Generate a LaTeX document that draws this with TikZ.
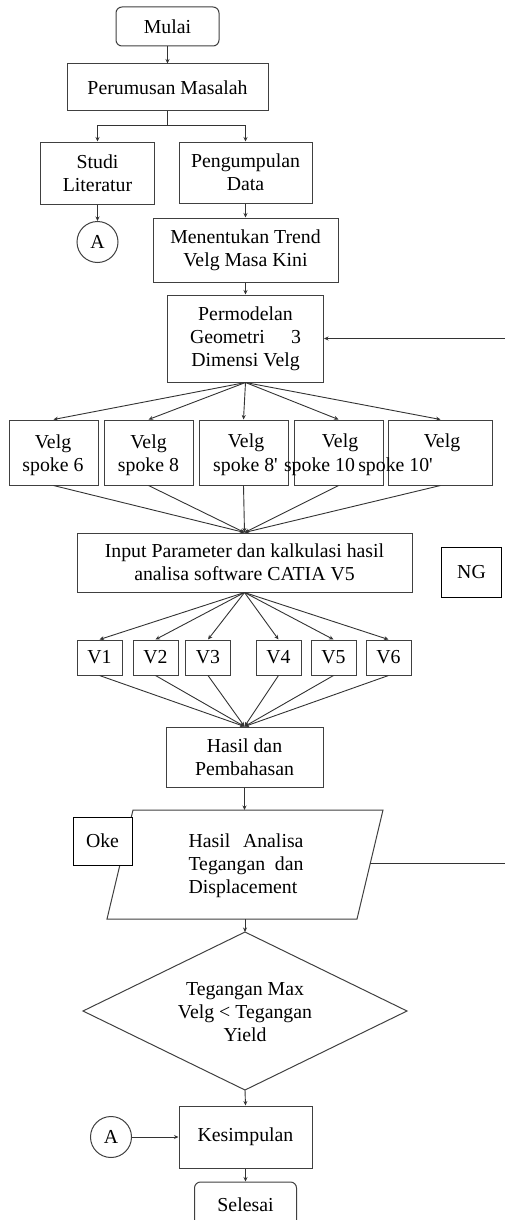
\documentclass[tikz,border=0pt]{standalone}
\usepackage{fontspec}
\setmainfont{Liberation Serif}[Ligatures=TeXOff]
\usetikzlibrary{arrows.meta,shapes.geometric}
\newcommand{\fsz}{\fontsize{19.8}{23}\selectfont}
\begin{document}
\begin{tikzpicture}[x=1pt,y=-1pt,
  box/.style={draw=black!75, line width=1pt, fill=white, inner sep=0pt, align=center, font=\fsz},
  rbox/.style={box, rounded corners=6pt},
  conn/.style={draw=black!75, line width=1pt, fill=white, circle, inner sep=0pt, minimum size=41pt, font=\fsz},
  txt/.style={inner sep=0pt, align=center, font=\fsz},
  arr/.style={draw=black!80, line width=0.9pt, -{Stealth[length=4.5pt,width=4pt]}},
  ln/.style={draw=black!80, line width=0.9pt}]
\useasboundingbox (0,0) rectangle (505,1220);
% nodes
\node[rbox, minimum width=103pt, minimum height=39pt] (mulai) at (167.5,26.5) {Mulai};
\node[box, minimum width=201pt, minimum height=47pt] (pm) at (167.5,87.5) {Perumusan Masalah};
\node[box, minimum width=114pt, minimum height=62pt] (studi) at (97.5,173) {Studi\\Literatur};
\node[box, minimum width=133pt, minimum height=61pt] (peng) at (245.5,172.5) {Pengumpulan\\Data};
\node[conn] (a1) at (97.5,242) {A};
\node[box, minimum width=185pt, minimum height=64pt] (trend) at (245.5,250) {Menentukan Trend\\Velg Masa Kini};
\node[box, minimum width=156pt, minimum height=87pt] (perm) at (245.5,338.5) {Permodelan\\\makebox[111pt]{Geometri\hfill 3}\\Dimensi Velg};
% velg row
\node[box, minimum width=89pt, minimum height=65pt] (v1) at (53.5,452.5) {};
\node[box, minimum width=89pt, minimum height=65pt] (v2) at (148.5,452.5) {};
\node[box, minimum width=89pt, minimum height=65pt] (v3) at (243.5,452.5) {};
\node[box, minimum width=89pt, minimum height=65pt] (v4) at (338.5,452.5) {};
\node[box, minimum width=104pt, minimum height=65pt] (v5) at (440.5,452.5) {};
\node[txt] (t1) at (53,455) {Velg\\spoke 6};
\node[txt] (t2) at (148.5,455) {Velg\\spoke 8};
\node[txt] (t3a) at (246,443) {Velg};
\node[txt] (t4a) at (340,443) {Velg};
\node[txt] (t5a) at (442,443) {Velg};
\node[txt] (t3b) at (245.5,467) {spoke 8'};
\node[txt] (t4b) at (319.5,467) {spoke 10};
\node[txt] (t5b) at (395.5,467) {spoke 10'};
% input
\node[box, minimum width=335pt, minimum height=59pt] (inp) at (244.5,562.5) {Input Parameter dan kalkulasi hasil\\analisa software CATIA V5};
\node[box, draw=black, minimum width=60pt, minimum height=50pt] (ng) at (471.5,572) {NG};
% V row
\foreach \n/\x in {1/99.5,2/155.5,3/208,4/278.5,5/333.5,6/388.5}
  \node[box, minimum width=45pt, minimum height=35pt] (w\n) at (\x,657.5) {V\n};
\node[box, minimum width=157pt, minimum height=60pt] (hasil) at (244.5,757) {Hasil dan\\Pembahasan};
% parallelogram
\coordinate (ptl) at (133,810); \coordinate (ptr) at (383,810);
\coordinate (pbr) at (357,919); \coordinate (pbl) at (107,919);
\draw[draw=black!75, line width=1pt, fill=white] (ptl) -- (ptr) -- (pbr) -- (pbl) -- cycle;
\coordinate (ptop) at (244.5,810);
\coordinate (pbot) at (245,919);
\coordinate (pright) at (370.4,863);
\node[txt] (ptext) at (246,866) {\makebox[115pt]{Hasil\hfill Analisa}\\\makebox[115pt]{Tegangan\hfill dan}\\\makebox[115pt][l]{Displacement}};
\node[box, draw=black, minimum width=59pt, minimum height=48pt] (oke) at (102.5,841) {Oke};
% diamond
\coordinate (dtop) at (245,932); \coordinate (dright) at (407,1011);
\coordinate (dbot) at (245,1090); \coordinate (dleft) at (83,1011);
\draw[draw=black!75, line width=1pt] (dtop) -- (dright) -- (dbot) -- (dleft) -- cycle;
\node[txt] (dtext) at (245,1012) {Tegangan Max\\Velg < Tegangan\\Yield};
\node[box, minimum width=133pt, minimum height=62pt] (kes) at (245.5,1137) {Kesimpulan};
\node[conn] (a2) at (111,1137) {A};
\node[rbox, minimum width=102pt, minimum height=46pt] (sel) at (245.5,1205) {Selesai};
% side coordinates
\coordinate (rin) at (505,338.5);
\coordinate (rout) at (505,863);
\path (pm.south) ++(0,14) coordinate (br);
% connectors
\draw[arr] (mulai.south) -- (pm.north);
\draw[ln] (pm.south) -- (br);
\draw[arr] (br) -| (studi.north);
\draw[arr] (br) -| (peng.north);
\draw[arr] (studi.south) -- (a1.north);
\draw[arr] (peng.south) -- (trend.north);
\draw[arr] (trend.south) -- (perm.north);
\foreach \v in {v1,v2,v3,v4,v5} \draw[arr] (perm.south) -- (\v.north);
\foreach \v in {v1,v2,v3,v4,v5} \draw[arr] (\v.south) -- (inp.north);
\draw[arr] (rin) -- (perm.east);
\foreach \n in {1,...,6} \draw[arr] (inp.south) -- (w\n.north);
\foreach \n in {1,...,6} \draw[arr] (w\n.south) -- (hasil.north);
\draw[arr] (hasil.south) -- (ptop);
\draw[ln] (pright) -- (rout);
\draw[arr] (pbot) -- (dtop);
\draw[arr] (dbot) -- (kes.north);
\draw[arr] (a2.east) -- (kes.west);
\draw[arr] (kes.south) -- (sel.north);
\end{tikzpicture}
\end{document}
